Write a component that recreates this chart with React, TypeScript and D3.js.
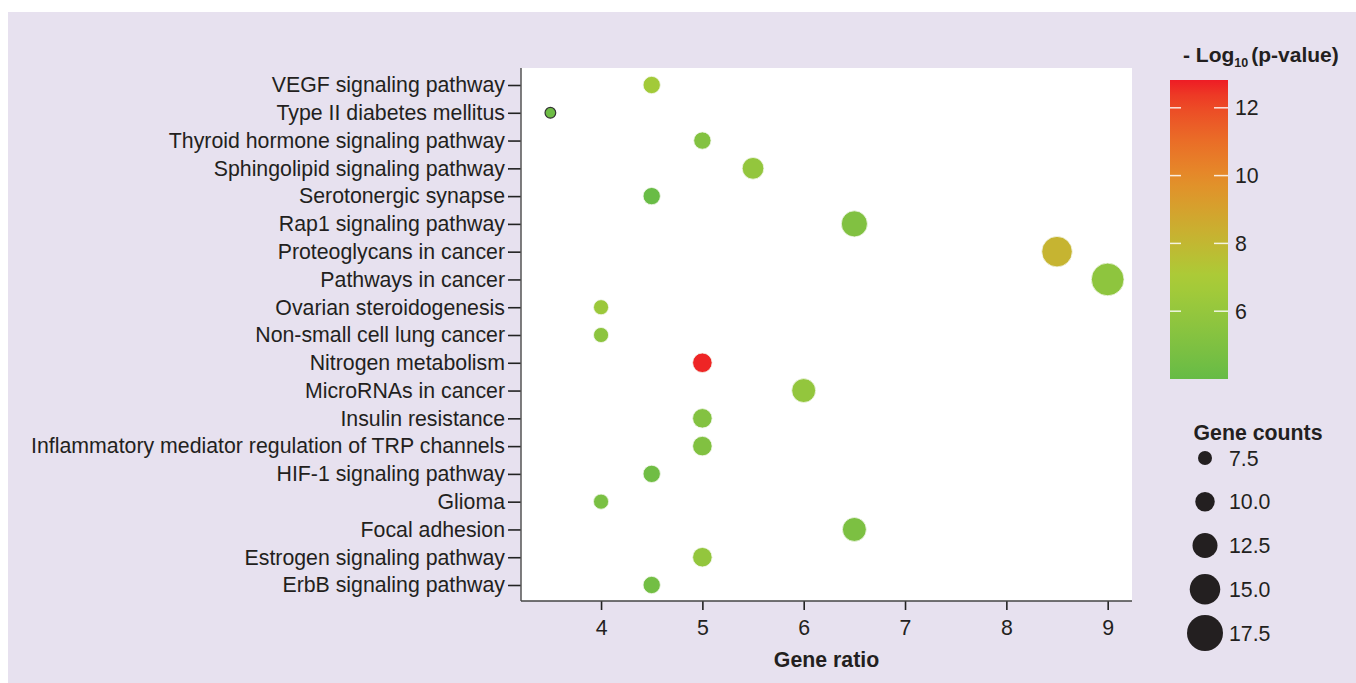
import React, { useRef, useEffect } from 'react';
import * as d3 from 'd3';

const terms = [
  'VEGF signaling pathway',
  'Type II diabetes mellitus',
  'Thyroid hormone signaling pathway',
  'Sphingolipid signaling pathway',
  'Serotonergic synapse',
  'Rap1 signaling pathway',
  'Proteoglycans in cancer',
  'Pathways in cancer',
  'Ovarian steroidogenesis',
  'Non-small cell lung cancer',
  'Nitrogen metabolism',
  'MicroRNAs in cancer',
  'Insulin resistance',
  'Inflammatory mediator regulation of TRP channels',
  'HIF-1 signaling pathway',
  'Glioma',
  'Focal adhesion',
  'Estrogen signaling pathway',
  'ErbB signaling pathway',
];
const geneRatio = [4.5, 3.5, 5, 5.5, 4.5, 6.5, 8.5, 9, 4, 4, 5, 6, 5, 5, 4.5, 4, 6.5, 5, 4.5];
const geneCount = [9, 6, 9, 11, 9, 13, 15, 16, 8, 8, 10, 12, 10, 10, 9, 8, 12, 10, 9];
const negLogP = [6.6, 4.3, 5.2, 5.9, 4.1, 5.1, 8.2, 5.7, 6.3, 5.6, 12.7, 5.9, 5.2, 5.1, 4.4, 4.8, 4.9, 5.9, 4.5];

const xTicks = [4, 5, 6, 7, 8, 9];
const colorTicks = [6, 8, 10, 12];
const sizeBreaks = [7.5, 10, 12.5, 15, 17.5];
const outlinedTerm = 'Type II diabetes mellitus';

const W = 1356;
const H = 683;
const FONT = 'Liberation Sans, Arial, Helvetica, sans-serif';
const TEXT = '#231f20';
const FS = 21.3;

export default function App() {
  const svgRef = useRef<SVGSVGElement>(null);

  useEffect(() => {
    const svg = d3.select(svgRef.current);
    svg.selectAll('*').remove();

    const data = terms.map((t, i) => ({ term: t, ratio: geneRatio[i], count: geneCount[i], p: negLogP[i] }));

    const panel = { left: 521, right: 1132, top: 68, bottom: 601 };

    const x = d3.scaleLinear().domain([3.21, 9.24]).range([panel.left, panel.right]);
    const y = d3.scalePoint<string>().domain(terms).range([85, 585]);
    const color = d3.scaleLinear<string>()
      .domain([4, 7, 10, 12.8])
      .range(['#66bb46', '#aacc37', '#e58a29', '#ee1c25'])
      .interpolate(d3.interpolateLab)
      .clamp(true);
    const size = d3.scaleLinear().domain([7.5, 17.5]).range([7, 18]);

    // background
    svg.append('rect')
      .attr('x', 8).attr('y', 12)
      .attr('width', W - 8).attr('height', H - 12)
      .attr('fill', '#e7e1ef');

    svg.append('rect')
      .attr('x', panel.left).attr('y', panel.top)
      .attr('width', panel.right - panel.left).attr('height', panel.bottom - panel.top)
      .attr('fill', 'white');

    // y axis
    svg.append('g')
      .attr('transform', `translate(${panel.left},0)`)
      .call(d3.axisLeft(y).tickSize(13).tickPadding(3).tickSizeOuter(0))
      .call(g => g.select('.domain').remove())
      .call(g => g.selectAll('.tick line').attr('stroke', '#222').attr('stroke-width', 1.6))
      .call(g => g.selectAll('.tick text')
        .attr('font-size', FS)
        .attr('font-family', FONT)
        .attr('fill', TEXT));

    svg.append('line')
      .attr('x1', panel.left).attr('x2', panel.left)
      .attr('y1', panel.top).attr('y2', panel.bottom)
      .attr('stroke', '#555').attr('stroke-width', 1.5);

    // x axis
    svg.append('g')
      .attr('transform', `translate(0,${panel.bottom})`)
      .call(d3.axisBottom(x).tickValues(xTicks).tickFormat(d3.format('d')).tickSize(9).tickPadding(10).tickSizeOuter(0))
      .call(g => g.select('.domain').remove())
      .call(g => g.selectAll('.tick line').attr('stroke', '#222').attr('stroke-width', 1.6))
      .call(g => g.selectAll('.tick text')
        .attr('font-size', FS)
        .attr('font-family', FONT)
        .attr('fill', TEXT));

    svg.append('line')
      .attr('x1', panel.left).attr('x2', panel.right)
      .attr('y1', panel.bottom).attr('y2', panel.bottom)
      .attr('stroke', '#444').attr('stroke-width', 1.5);

    svg.append('text')
      .attr('x', (panel.left + panel.right) / 2)
      .attr('y', 667)
      .attr('text-anchor', 'middle')
      .attr('font-size', FS)
      .attr('font-weight', 'bold')
      .attr('font-family', FONT)
      .attr('fill', TEXT)
      .text('Gene ratio');

    // points
    svg.append('g')
      .selectAll('circle')
      .data(data)
      .join('circle')
      .attr('cx', d => x(d.ratio))
      .attr('cy', d => y(d.term) as number)
      .attr('r', d => size(d.count))
      .attr('fill', d => color(d.p))
      .attr('stroke', d => d.term === outlinedTerm ? '#333' : '#f4f7ee')
      .attr('stroke-width', d => d.term === outlinedTerm ? 1.2 : 0.8);

    // colour bar
    const cb = { x: 1170, w: 58, top: 80, bottom: 379 };
    const cy = d3.scaleLinear().domain([4.0, 12.82]).range([cb.bottom, cb.top]);
    const grad = svg.append('defs').append('linearGradient')
      .attr('id', 'pgrad')
      .attr('x1', 0).attr('y1', 1).attr('x2', 0).attr('y2', 0);
    const stops = d3.range(0, 1.0001, 0.05);
    grad.selectAll('stop')
      .data(stops)
      .join('stop')
      .attr('offset', d => d)
      .attr('stop-color', d => color(cy.invert(cb.bottom - d * (cb.bottom - cb.top))));

    svg.append('rect')
      .attr('x', cb.x).attr('y', cb.top)
      .attr('width', cb.w).attr('height', cb.bottom - cb.top)
      .attr('fill', 'url(#pgrad)');

    const cbt = svg.append('g');
    colorTicks.forEach(t => {
      cbt.append('line')
        .attr('x1', cb.x).attr('x2', cb.x + 11)
        .attr('y1', cy(t)).attr('y2', cy(t))
        .attr('stroke', 'white').attr('stroke-width', 1.5).attr('opacity', 0.85);
      cbt.append('line')
        .attr('x1', cb.x + cb.w - 14).attr('x2', cb.x + cb.w)
        .attr('y1', cy(t)).attr('y2', cy(t))
        .attr('stroke', 'white').attr('stroke-width', 1.5).attr('opacity', 0.85);
      cbt.append('text')
        .attr('x', cb.x + cb.w + 7)
        .attr('y', cy(t))
        .attr('dy', '0.36em')
        .attr('font-size', FS)
        .attr('font-family', FONT)
        .attr('fill', TEXT)
        .text(t);
    });

    const title = svg.append('text')
      .attr('x', 1183)
      .attr('y', 62)
      .attr('font-size', 21)
      .attr('font-weight', 'bold')
      .attr('font-family', FONT)
      .attr('fill', TEXT);
    title.append('tspan').text('- Log');
    title.append('tspan').attr('font-size', 12.5).attr('dy', 5).text('10');
    title.append('tspan').attr('dy', -5).attr('dx', 3).text('(p-value)');

    // size legend
    svg.append('text')
      .attr('x', 1258)
      .attr('y', 440)
      .attr('text-anchor', 'middle')
      .attr('font-size', FS)
      .attr('font-weight', 'bold')
      .attr('font-family', FONT)
      .attr('fill', TEXT)
      .text('Gene counts');

    const ly = d3.scalePoint<number>().domain(sizeBreaks).range([458, 633]);
    const leg = svg.append('g')
      .selectAll('g')
      .data(sizeBreaks)
      .join('g')
      .attr('transform', d => `translate(1205,${ly(d)})`);
    leg.append('circle')
      .attr('r', d => size(d))
      .attr('fill', '#231f20');
    leg.append('text')
      .attr('x', 24)
      .attr('dy', '0.36em')
      .attr('font-size', FS)
      .attr('font-family', FONT)
      .attr('fill', TEXT)
      .text(d => d3.format('.1f')(d));
  }, []);

  return (
    <svg
      ref={svgRef}
      width={W}
      height={H}
      style={{ position: 'absolute', left: 0, top: 0, display: 'block', background: 'white' }}
    />
  );
}
